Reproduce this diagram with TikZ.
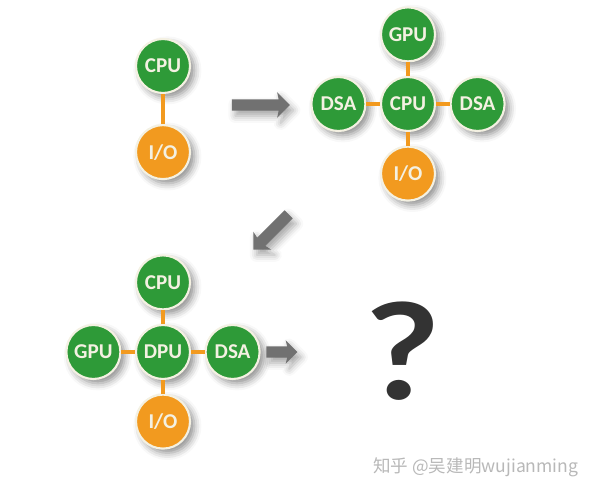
\documentclass[tikz,border=0pt]{standalone}
\usepackage{fontspec}
\setmainfont{Carlito}
\newfontfamily\cjk{Noto Sans CJK SC}
\newfontfamily\qfont{Lato}
\usetikzlibrary{positioning,shapes.arrows,shadows.blur}
\definecolor{chipgreen}{HTML}{2E9A38}
\definecolor{ioorange}{HTML}{F29A1F}
\definecolor{arrowgray}{HTML}{717171}
\definecolor{rimwhite}{HTML}{F4F1E2}

\begin{document}
\begin{tikzpicture}[node distance={0.27cm}, thick,
    chip/.style = {circle, draw=rimwhite, line width=1.2pt, fill=chipgreen, minimum size=1.08cm, inner sep=0pt,
                   text=rimwhite, font=\bfseries\fontsize{12}{12}\selectfont,
                   blur shadow={shadow xshift=2.5pt, shadow yshift=-2.5pt, shadow blur radius=4pt, shadow opacity=45}},
    io/.style = {chip, fill=ioorange},
    link/.style = {draw=ioorange, line width=2pt},
    arr/.style = {single arrow, fill=arrowgray, draw=none, inner xsep=0pt, inner ysep=0.1cm,
                  single arrow head extend=0.14cm, single arrow head indent=0.03cm,
                  blur shadow={shadow xshift=2pt, shadow yshift=-3pt, shadow blur radius=4pt, shadow opacity=35}}]
    \useasboundingbox (0,0) rectangle (12,9.9);

    % step 1
    \node[chip] (cpu1) at (3.26,8.58)       {CPU};
    \node[io] (io1) [below=0.6cm of cpu1]   {I/O};
    \draw[link] (cpu1) -- (io1);

    % step 2
    \node[chip] (cpu2) at (8.16,7.82)       {CPU};
    \node[chip] (gpu2) [above=of cpu2]      {GPU};
    \node[chip] (dsa2) [left=of cpu2]       {DSA};
    \node[chip] (dsb2) [right=of cpu2]      {DSA};
    \node[io] (io2) [below=of cpu2]         {I/O};
    \foreach \n in {gpu2,dsa2,dsb2,io2}
        \draw[link] (cpu2) -- (\n);

    % step 3
    \node[chip] (dpu3) at (3.26,2.86)       {DPU};
    \node[chip] (cpu3) [above=of dpu3]      {CPU};
    \node[chip] (gpu3) [left=of dpu3]       {GPU};
    \node[chip] (dsa3) [right=of dpu3]      {DSA};
    \node[io] (io3) [below=of dpu3]         {I/O};
    \foreach \n in {cpu3,gpu3,dsa3,io3}
        \draw[link] (dpu3) -- (\n);

    % arrows between the steps
    \node[arr, minimum height=1.16cm] (a1) at (5.16,7.8) {};
    \node[arr, minimum height=1.0cm, rotate=225] (a2) at (5.46,5.3) {};
    \node[arr, minimum height=0.62cm, single arrow head extend=0.12cm] (a3) at (5.58,2.86) {};

    % what comes next
    \node[anchor=base, xscale=1.19, text=black!80, font=\qfont\bfseries\fontsize{76}{76}\selectfont] (q) at (8.07,1.9) {?};

    \node[anchor=east, text=black!28, font=\cjk\fontsize{10}{10}\selectfont] (wm) at (11.7,0.56) {知乎 @吴建明wujianming};
\end{tikzpicture}
\end{document}
